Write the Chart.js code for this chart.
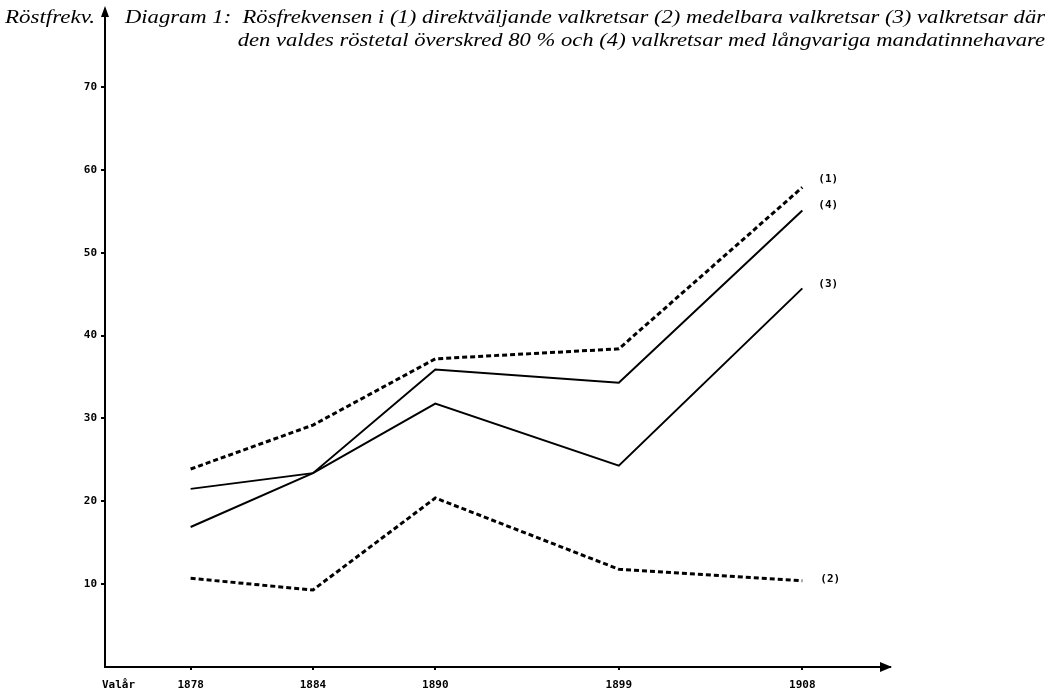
<!DOCTYPE html>
<html><head><meta charset="utf-8">
<script src="https://cdn.jsdelivr.net/npm/chart.js@4"></script>
<style>html,body{margin:0;padding:0;background:#fff}#wrap{width:1049px;height:691px;position:relative}</style>
</head><body><div id="wrap"><canvas id="c" width="1049" height="691"></canvas></div>
<script>
// Data
const years = [1878, 1884, 1890, 1899, 1908];
const yTicks = [10, 20, 30, 40, 50, 60, 70];
const seriesNames = ['(1)', '(2)', '(3)', '(4)'];
const s1 = [23.9, 29.2, 37.2, 38.4, 57.9];
const s2 = [10.7, 9.3, 20.4, 11.8, 10.4];
const s3 = [16.9, 23.4, 31.8, 24.3, 45.7];
const s4 = [21.5, 23.4, 35.9, 34.3, 55.1];
const titleLines = ['Diagram 1:  Rösfrekvensen i (1) direktväljande valkretsar (2) medelbara valkretsar (3) valkretsar där',
                    'den valdes röstetal överskred 80 % och (4) valkretsar med långvariga mandatinnehavare'];
const yTitle = 'Röstfrekv.';
const xTitle = 'Valår';

const labelOffsets = [[16,-8],[18,-2],[16,-4],[16,-5]];
const tickFont = {family: '"DejaVu Sans Mono", monospace', size: 11, weight: 'bold'};

const mk = (arr) => arr.map((v,i)=>({x: years[i], y: v}));

function condensedText(ctx, text, xRight, y, sx, align) {
  ctx.save();
  ctx.translate(xRight, y);
  ctx.scale(sx, 1);
  ctx.textAlign = align;
  ctx.fillText(text, 0, 0);
  ctx.restore();
}

const annot = {
  id: 'annot',
  afterDraw(chart) {
    const ctx = chart.ctx;
    const xs = chart.scales.x, ys = chart.scales.y;
    const x0 = xs.left, y0 = ys.bottom;
    ctx.save();
    ctx.fillStyle = '#000';
    ctx.strokeStyle = '#000';
    // axis extension and arrows
    ctx.lineWidth = 2;
    ctx.beginPath(); ctx.moveTo(x0, ys.top); ctx.lineTo(x0, 14); ctx.stroke();
    ctx.beginPath(); ctx.moveTo(x0, 6); ctx.lineTo(x0-4, 17); ctx.lineTo(x0+4, 17); ctx.closePath(); ctx.fill();
    ctx.beginPath(); ctx.moveTo(xs.right+2, y0); ctx.lineTo(xs.right-10, y0-5); ctx.lineTo(xs.right-10, y0+5); ctx.closePath(); ctx.fill();
    // titles (condensed italic serif)
    ctx.font = 'italic 18px "Liberation Serif", serif';
    ctx.textBaseline = 'middle';
    const w = ctx.measureText(titleLines[0]).width;
    const sx = 920 / w;
    condensedText(ctx, titleLines[0], 1045, 18, sx, 'right');
    condensedText(ctx, titleLines[1], 1045, 41, sx, 'right');
    const wy = ctx.measureText(yTitle).width;
    condensedText(ctx, yTitle, 5, 18, 90 / wy, 'left');
    // x title
    ctx.textAlign = 'left';
    ctx.font = 'bold 11px "DejaVu Sans Mono", monospace';
    ctx.fillText(xTitle, x0 - 3, 685);
    // series labels
    chart.data.datasets.forEach((ds, i) => {
      const meta = chart.getDatasetMeta(i);
      const p = meta.data[meta.data.length-1];
      ctx.fillText(seriesNames[i], p.x + labelOffsets[i][0], p.y + labelOffsets[i][1]);
    });
    ctx.restore();
  }
};

new Chart(document.getElementById('c'), {
  type: 'line',
  data: {
    datasets: [
      {label: seriesNames[0], data: mk(s1), borderColor: '#000', borderWidth: 3, borderDash: [5,3], pointRadius: 0, tension: 0},
      {label: seriesNames[1], data: mk(s2), borderColor: '#000', borderWidth: 3, borderDash: [5,3], pointRadius: 0, tension: 0},
      {label: seriesNames[2], data: mk(s3), borderColor: '#000', borderWidth: 2, pointRadius: 0, tension: 0},
      {label: seriesNames[3], data: mk(s4), borderColor: '#000', borderWidth: 2, pointRadius: 0, tension: 0}
    ]
  },
  options: {
    responsive: false,
    animation: false,
    layout: {padding: {top: 15, right: 159, left: 0, bottom: 0}},
    plugins: {legend: {display: false}, tooltip: {enabled: false}, title: {display: false}},
    scales: {
      x: {
        type: 'linear', min: 1873.8, max: 1912.3,
        afterBuildTicks: (s) => { s.ticks = years.map(v => ({value: v})); },
        afterFit: (s) => { s.height = 24; },
        grid: {drawOnChartArea: false, drawTicks: true, tickLength: 3, color: '#000', lineWidth: 2},
        border: {display: true, color: '#000', width: 2},
        ticks: {font: tickFont, color: '#000', padding: 9, maxRotation: 0, autoSkip: false, callback: (v) => String(v)}
      },
      y: {
        type: 'linear', min: 0, max: 78.7,
        afterBuildTicks: (s) => { s.ticks = yTicks.map(v => ({value: v})); },
        afterFit: (s) => { s.width = 105; },
        grid: {drawOnChartArea: false, drawTicks: true, tickLength: 4, color: '#000', lineWidth: 2},
        border: {display: true, color: '#000', width: 2},
        ticks: {font: tickFont, color: '#000', padding: 4, autoSkip: false, callback: (v) => String(v)}
      }
    }
  },
  plugins: [annot]
});
</script></body></html>
